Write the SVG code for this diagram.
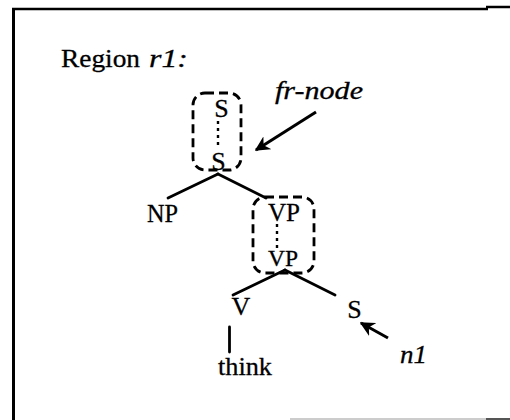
<svg xmlns="http://www.w3.org/2000/svg" width="510" height="420" viewBox="0 0 510 420">
<style>
.t{font-family:"Liberation Serif","Times New Roman",serif;font-size:26px;fill:#000;stroke:#000;stroke-width:0.3}
.i{font-style:italic}
.e{stroke:#000;stroke-width:2.8;fill:none;stroke-linecap:round}
.box{stroke:#000;stroke-width:2.8;fill:none;stroke-dasharray:9 5}
.dot{stroke:#000;stroke-width:2.4;stroke-dasharray:3 4;fill:none}
.ar{stroke:#000;stroke-width:3;fill:none}
</style>
<defs>
<marker id="ah" viewBox="0 0 10 10" refX="9" refY="5" markerWidth="5" markerHeight="5" orient="auto" markerUnits="strokeWidth">
<path d="M0,0 L10,5 L0,10 L3,5 Z" fill="#000"/>
</marker>
</defs>
<rect width="510" height="420" fill="#fff"/>
<g id="frame">
<line x1="12" y1="9" x2="488" y2="9" stroke="#000" stroke-width="2.5"/>
<line x1="486" y1="7" x2="510" y2="7" stroke="#000" stroke-width="2.5"/>
<line x1="13.5" y1="8" x2="13.5" y2="420" stroke="#000" stroke-width="3"/>
<line x1="290" y1="419" x2="486" y2="419" stroke="#bbb" stroke-width="1.5"/>
<line x1="486" y1="419" x2="510" y2="419" stroke="#555" stroke-width="2"/>
</g>
<g id="title">
<text class="t" x="61" y="67" textLength="79" lengthAdjust="spacingAndGlyphs">Region</text>
<text class="t i" x="149" y="67" textLength="39" lengthAdjust="spacingAndGlyphs">r1:</text>
</g>
<g id="connectors">
<line class="e" x1="218" y1="174" x2="168" y2="198"/>
<line class="e" x1="218" y1="174" x2="266" y2="198"/>
<line class="e" x1="285" y1="270" x2="233" y2="295"/>
<line class="e" x1="285" y1="270" x2="335" y2="295"/>
<line class="e" x1="229.5" y1="327" x2="229.5" y2="352"/>
<line class="dot" x1="218" y1="121" x2="218" y2="148"/>
<line class="dot" x1="277" y1="224" x2="277" y2="249"/>
<line class="ar" x1="316" y1="112" x2="256" y2="150" marker-end="url(#ah)"/>
<line class="ar" x1="388" y1="338" x2="361" y2="323" marker-end="url(#ah)"/>
</g>
<g id="fr-box">
<rect class="box" x="193" y="93" width="48" height="77" rx="12"/>
</g>
<g id="vp-box">
<rect class="box" x="253" y="197" width="61" height="76" rx="12"/>
</g>
<g id="n-Sbar"><text class="t" x="221.5" y="117" text-anchor="middle">S</text></g>
<g id="n-S"><text class="t" x="218.5" y="170" text-anchor="middle">S</text></g>
<g id="n-NP"><text class="t" x="162.5" y="222" text-anchor="middle" textLength="31" lengthAdjust="spacingAndGlyphs">NP</text></g>
<g id="n-VPbar"><text class="t" x="284" y="221" text-anchor="middle" textLength="32" lengthAdjust="spacingAndGlyphs">VP</text></g>
<g id="n-VP"><text class="t" x="283" y="266" text-anchor="middle" font-size="24" style="font-size:24px" textLength="30" lengthAdjust="spacingAndGlyphs">VP</text></g>
<g id="n-V"><text class="t" x="241" y="315" text-anchor="middle">V</text></g>
<g id="n-S2"><text class="t" x="354.5" y="318" text-anchor="middle">S</text></g>
<g id="n-think"><text class="t" x="218" y="375" textLength="54" lengthAdjust="spacingAndGlyphs">think</text></g>
<g id="l-frnode"><text class="t i" x="275" y="99" textLength="88" lengthAdjust="spacingAndGlyphs">fr-node</text></g>
<g id="l-n1"><text class="t i" x="400" y="363" textLength="27" lengthAdjust="spacingAndGlyphs">n1</text></g>
</svg>
